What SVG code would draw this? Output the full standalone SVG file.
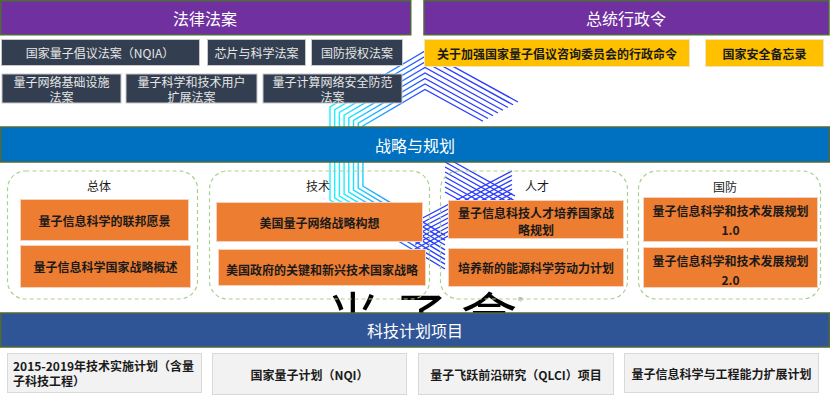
<svg xmlns="http://www.w3.org/2000/svg" width="830" height="402" viewBox="0 0 830 402">
<style>
text{font-family:"Noto Sans CJK SC","Noto Sans",sans-serif;}
.band{stroke:#4f6a3a;stroke-width:1.5;}
.bt{font-size:16px;fill:#ffffff;text-anchor:middle;dominant-baseline:central;}
.dark{fill:#333f50;stroke:#c8c8c8;stroke-width:1;}
.dt{font-size:12px;fill:#e6e6e6;text-anchor:middle;dominant-baseline:central;}
.yel{fill:#ffc000;stroke:#efe3c0;stroke-width:1;}
.yt{font-size:12px;fill:#1a1a1a;font-weight:bold;text-anchor:middle;dominant-baseline:central;}
.grp{fill:none;stroke:#a9d18e;stroke-width:1.2;stroke-dasharray:4 3;}
.gt{font-size:12px;fill:#1a1a1a;text-anchor:middle;dominant-baseline:central;}
.org{fill:#ed7d31;stroke:#f3d3bd;stroke-width:1;}
.ot{font-size:12px;fill:#1a1a1a;font-weight:bold;text-anchor:middle;dominant-baseline:central;}
.gry{fill:#f2f2f2;stroke:#d9d9d9;stroke-width:1;}
.gyt{font-size:12px;fill:#1a1a1a;font-weight:bold;dominant-baseline:central;}
.s{fill:none;stroke-width:1.4;}
</style>
<defs>
<linearGradient id="cy" gradientUnits="userSpaceOnUse" x1="345" y1="0" x2="430" y2="0">
<stop offset="0" stop-color="#1ef0ff"/>
<stop offset="1" stop-color="#2a3cff"/>
</linearGradient>
</defs>

<!-- background watermark logo -->
<g id="watermark">
<g class="s" stroke="url(#cy)">
<polyline points="518,102 425,51 330,107 330,200 445,269"/>
<polyline points="513,104.75 425,56.5 334.7,109.7 334.7,198 445,264.2"/>
<polyline points="508,107.5 425,62 339.4,112.4 339.4,196 445,259.4"/>
<polyline points="503,110.25 425,67.5 344.1,115.1 344.1,194 445,254.6"/>
<polyline points="498,113 425,73 348.8,117.8 348.8,192 445,249.8"/>
<polyline points="493,115.75 425,78.5 353.5,120.5 353.5,190 445,245"/>
<polyline points="488,118.5 425,84 358.2,123.2 358.2,188 445,240.2"/>
<polyline points="483,121.25 425,89.5 362.9,125.9 362.9,186 445,235.4"/>
</g>
<g class="s" stroke="#2a3cff">
<line x1="415" y1="222" x2="512" y2="171"/>
<line x1="415" y1="226.5" x2="512" y2="175.5"/>
<line x1="415" y1="231" x2="512" y2="180"/>
<line x1="415" y1="235.5" x2="512" y2="184.5"/>
<line x1="415" y1="240" x2="512" y2="189"/>
<line x1="415" y1="244.5" x2="512" y2="193.5"/>
<line x1="415" y1="249" x2="512" y2="198"/>
<line x1="415" y1="253.5" x2="512" y2="202.5"/>
<line x1="445" y1="157" x2="515" y2="196"/>
<line x1="445" y1="162" x2="515" y2="201"/>
<line x1="445" y1="167" x2="515" y2="206"/>
<line x1="445" y1="172" x2="515" y2="211"/>
<line x1="445" y1="177" x2="515" y2="216"/>
<line x1="445" y1="182" x2="515" y2="221"/>
<line x1="445" y1="187" x2="515" y2="226"/>
<line x1="445" y1="192" x2="515" y2="231"/>
</g>
<text x="325" y="339" font-size="56" letter-spacing="12" fill="#000000">光子盒</text>
<text x="518" y="305" font-size="10" fill="#8c8c8c">®</text>
</g>

<g id="law-header">
<rect class="band" x="0.75" y="0.75" width="410" height="34" fill="#7030a0"/>
<text class="bt" x="205" y="17.5">法律法案</text>
</g>
<g id="exec-header">
<rect class="band" x="424" y="0.75" width="405" height="34" fill="#7030a0"/>
<text class="bt" x="626" y="17.5">总统行政令</text>
</g>

<g id="nqia"><rect class="dark" x="1.5" y="39.5" width="198" height="26"/><text class="dt" x="100" y="52.5">国家量子倡议法案（NQIA）</text></g>
<g id="chips"><rect class="dark" x="207.5" y="39.5" width="98" height="26"/><text class="dt" x="256.5" y="52.5">芯片与科学法案</text></g>
<g id="ndaa"><rect class="dark" x="311.5" y="39.5" width="91" height="26"/><text class="dt" x="357" y="52.5">国防授权法案</text></g>
<g id="qnet-law"><rect class="dark" x="2" y="74" width="119" height="29"/><text class="dt" x="61.5" y="81">量子网络基础设施</text><text class="dt" x="61.5" y="96">法案</text></g>
<g id="quser-law"><rect class="dark" x="126" y="74" width="131" height="29"/><text class="dt" x="191.5" y="81">量子科学和技术用户</text><text class="dt" x="191.5" y="96">扩展法案</text></g>
<g id="qsec-law"><rect class="dark" x="263" y="74" width="139" height="29"/><text class="dt" x="332.5" y="81">量子计算网络安全防范</text><text class="dt" x="332.5" y="96">法案</text></g>

<g id="eo"><rect class="yel" x="424.5" y="39.5" width="265" height="27"/><text class="yt" x="557" y="53">关于加强国家量子倡议咨询委员会的行政命令</text></g>
<g id="nsm"><rect class="yel" x="705.5" y="39.5" width="118" height="27"/><text class="yt" x="764.5" y="53">国家安全备忘录</text></g>

<g id="strategy-header">
<rect class="band" x="0.75" y="127" width="828.5" height="35" fill="#0070c0"/>
<text class="bt" x="415" y="145">战略与规划</text>
</g>

<g id="group-overall">
<rect class="grp" x="7.5" y="171" width="190" height="128" rx="18"/>
<text class="gt" x="99" y="185">总体</text>
<g id="federal-vision"><rect class="org" x="20.5" y="199.5" width="168" height="41"/><text class="ot" x="104.5" y="220">量子信息科学的联邦愿景</text></g>
<g id="national-overview"><rect class="org" x="20.5" y="245.5" width="170" height="42"/><text class="ot" x="105.5" y="266.5">量子信息科学国家战略概述</text></g>
</g>

<g id="group-tech">
<rect class="grp" x="209.5" y="171" width="220" height="128" rx="18"/>
<text class="gt" x="318" y="185">技术</text>
<g id="qnet-vision"><rect class="org" x="216.5" y="202.5" width="206" height="39"/><text class="ot" x="319.5" y="222">美国量子网络战略构想</text></g>
<g id="cet-strategy"><rect class="org" x="218.5" y="249.5" width="207" height="36"/><text class="ot" x="322" y="269.5">美国政府的关键和新兴技术国家战略</text></g>
</g>

<g id="group-talent">
<rect class="grp" x="440.5" y="171" width="187" height="128" rx="18"/>
<text class="gt" x="537" y="185">人才</text>
<g id="talent-plan"><rect class="org" x="448.5" y="200.5" width="175" height="38"/><text class="ot" x="536" y="212.5">量子信息科技人才培养国家战</text><text class="ot" x="536" y="229.5">略规划</text></g>
<g id="energy-workforce"><rect class="org" x="448.5" y="248.5" width="175" height="38"/><text class="ot" x="536" y="267">培养新的能源科学劳动力计划</text></g>
</g>

<g id="group-defense">
<rect class="grp" x="638.5" y="171" width="182" height="128" rx="18"/>
<text class="gt" x="725" y="186">国防</text>
<g id="dev-plan-1"><rect class="org" x="643.5" y="197.5" width="174" height="44"/><text class="ot" x="730.5" y="210.5">量子信息科学和技术发展规划</text><text class="ot" x="730.5" y="229">1.0</text></g>
<g id="dev-plan-2"><rect class="org" x="643.5" y="247.5" width="174" height="40"/><text class="ot" x="730.5" y="260">量子信息科学和技术发展规划</text><text class="ot" x="730.5" y="279">2.0</text></g>
</g>

<g id="program-header">
<rect class="band" x="0.75" y="313" width="828.5" height="34" fill="#2f5597"/>
<text class="bt" x="415" y="330">科技计划项目</text>
</g>

<g id="tech-impl"><rect class="gry" x="7.5" y="353.5" width="194" height="39"/><text class="gyt" x="13" y="365.5">2015-2019年技术实施计划（含量</text><text class="gyt" x="13" y="380.5">子科技工程）</text></g>
<g id="nqi"><rect class="gry" x="212.5" y="353.5" width="194" height="41"/><text class="gyt" x="309.5" y="374" text-anchor="middle">国家量子计划（NQI）</text></g>
<g id="qlci"><rect class="gry" x="418.5" y="353.5" width="195" height="41"/><text class="gyt" x="516" y="374" text-anchor="middle">量子飞跃前沿研究（QLCI）项目</text></g>
<g id="qise-expand"><rect class="gry" x="624.5" y="353.5" width="194" height="39"/><text class="gyt" x="721.5" y="373" text-anchor="middle">量子信息科学与工程能力扩展计划</text></g>
</svg>
